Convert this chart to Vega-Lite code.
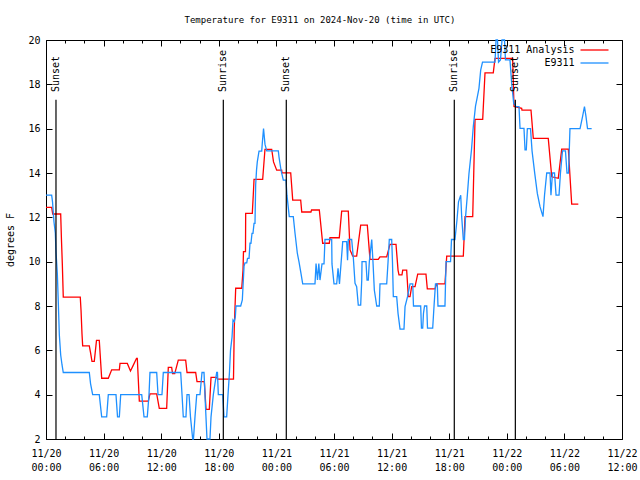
{
  "$schema": "https://vega.github.io/schema/vega-lite/v6.json",
  "autosize": "none",
  "width": 576,
  "height": 399,
  "padding": {"left": 46, "top": 40, "right": 18, "bottom": 41},
  "background": "white",
  "title": {"text": "Temperature for E9311 on 2024-Nov-20 (time in UTC)", "font": "DejaVu Sans Mono", "fontSize": 9, "fontWeight": "normal", "color": "black", "offset": 10, "dx": -14},
  "datasets": {
    "analysis": [
      {"h":0,"v":12.45},{"h":0.59,"v":12.45},{"h":0.70,"v":12.15},{"h":1.53,"v":12.15},{"h":1.61,"v":11.0},{"h":1.70,"v":9.9},{"h":1.80,"v":8.4},{"h":3.57,"v":8.4},{"h":3.65,"v":7.8},{"h":3.75,"v":6.74},{"h":3.82,"v":6.2},{"h":4.51,"v":6.2},{"h":4.64,"v":5.9},{"h":4.79,"v":5.5},{"h":5.03,"v":5.5},{"h":5.26,"v":6.45},{"h":5.55,"v":6.45},{"h":5.80,"v":4.74},{"h":6.49,"v":4.74},{"h":6.84,"v":5.12},{"h":7.64,"v":5.12},{"h":7.71,"v":5.41},{"h":8.47,"v":5.41},{"h":8.80,"v":5.07},{"h":9.06,"v":5.3},{"h":9.43,"v":5.64},{"h":9.51,"v":5.64},{"h":9.72,"v":3.71},{"h":10.66,"v":3.71},{"h":10.83,"v":4.04},{"h":11.53,"v":4.04},{"h":11.80,"v":3.38},{"h":12.57,"v":3.38},{"h":12.74,"v":5.23},{"h":13.09,"v":5.23},{"h":13.18,"v":4.95},{"h":13.41,"v":4.95},{"h":13.78,"v":5.56},{"h":14.55,"v":5.56},{"h":14.69,"v":5.0},{"h":15.59,"v":5.0},{"h":15.73,"v":4.59},{"h":16.49,"v":4.59},{"h":16.67,"v":3.34},{"h":17.01,"v":3.34},{"h":17.19,"v":4.78},{"h":17.78,"v":4.78},{"h":17.86,"v":4.7},{"h":19.53,"v":4.7},{"h":19.61,"v":7.0},{"h":19.76,"v":8.8},{"h":20.39,"v":8.8},{"h":20.52,"v":9.6},{"h":20.57,"v":10.45},{"h":20.78,"v":10.45},{"h":20.80,"v":12.18},{"h":21.49,"v":12.18},{"h":21.59,"v":13.0},{"h":21.67,"v":13.71},{"h":22.57,"v":13.71},{"h":22.81,"v":15.07},{"h":23.51,"v":15.07},{"h":23.70,"v":14.5},{"h":24.03,"v":14.13},{"h":24.55,"v":14.13},{"h":24.58,"v":14.01},{"h":25.49,"v":14.01},{"h":25.70,"v":12.78},{"h":26.53,"v":12.78},{"h":26.64,"v":12.24},{"h":27.60,"v":12.24},{"h":27.66,"v":12.33},{"h":28.47,"v":12.33},{"h":28.82,"v":10.83},{"h":29.51,"v":10.83},{"h":29.58,"v":11.08},{"h":30.55,"v":11.08},{"h":30.80,"v":12.28},{"h":31.49,"v":12.28},{"h":31.67,"v":10.53},{"h":31.95,"v":10.25},{"h":32.36,"v":10.25},{"h":32.78,"v":11.65},{"h":33.47,"v":11.65},{"h":33.75,"v":10.1},{"h":34.61,"v":10.1},{"h":34.79,"v":10.22},{"h":35.49,"v":10.22},{"h":35.83,"v":10.78},{"h":36.46,"v":10.78},{"h":36.67,"v":9.62},{"h":36.77,"v":9.4},{"h":37.08,"v":9.4},{"h":37.16,"v":9.62},{"h":37.57,"v":9.62},{"h":37.74,"v":8.42},{"h":37.92,"v":8.42},{"h":38.09,"v":8.87},{"h":38.44,"v":8.87},{"h":38.72,"v":9.44},{"h":39.58,"v":9.44},{"h":39.72,"v":8.77},{"h":40.52,"v":8.77},{"h":40.70,"v":9.0},{"h":41.56,"v":9.0},{"h":41.74,"v":10.25},{"h":43.47,"v":10.25},{"h":43.65,"v":12.03},{"h":44.45,"v":12.03},{"h":44.69,"v":16.42},{"h":45.49,"v":16.42},{"h":45.73,"v":18.52},{"h":46.59,"v":18.52},{"h":46.77,"v":19.17},{"h":48.61,"v":19.17},{"h":48.75,"v":17.0},{"h":49.55,"v":16.92},{"h":49.58,"v":16.84},{"h":50.52,"v":16.84},{"h":50.76,"v":15.56},{"h":52.32,"v":15.56},{"h":52.68,"v":13.83},{"h":53.36,"v":13.76},{"h":53.72,"v":15.08},{"h":54.41,"v":15.08},{"h":54.76,"v":12.6},{"h":55.45,"v":12.6}
    ],
    "observed": [
      {"h":0,"v":13.0},{"h":0.59,"v":13.0},{"h":0.68,"v":12.7},{"h":0.76,"v":12.2},{"h":0.83,"v":11.8},{"h":0.97,"v":11.3},{"h":1.04,"v":10.45},{"h":1.18,"v":9.47},{"h":1.28,"v":8.19},{"h":1.39,"v":6.69},{"h":1.53,"v":5.79},{"h":1.67,"v":5.34},{"h":1.80,"v":5.0},{"h":4.51,"v":5.0},{"h":4.64,"v":4.5},{"h":4.86,"v":4.0},{"h":5.55,"v":4.0},{"h":5.80,"v":3.0},{"h":6.32,"v":3.0},{"h":6.49,"v":4.0},{"h":7.29,"v":4.0},{"h":7.45,"v":3.0},{"h":7.64,"v":3.0},{"h":7.78,"v":4.0},{"h":9.97,"v":4.0},{"h":10.21,"v":3.0},{"h":10.55,"v":3.0},{"h":10.73,"v":4.0},{"h":10.83,"v":5.0},{"h":11.53,"v":5.0},{"h":11.67,"v":4.0},{"h":12.08,"v":4.0},{"h":12.22,"v":5.0},{"h":14.03,"v":5.0},{"h":14.17,"v":4.0},{"h":14.30,"v":3.0},{"h":14.58,"v":3.0},{"h":14.69,"v":4.0},{"h":14.90,"v":4.0},{"h":15.05,"v":3.0},{"h":15.28,"v":2.0},{"h":15.36,"v":2.0},{"h":15.52,"v":3.0},{"h":15.70,"v":4.0},{"h":16.04,"v":4.0},{"h":16.25,"v":5.0},{"h":16.46,"v":5.0},{"h":16.61,"v":3.5},{"h":16.77,"v":2.0},{"h":17.08,"v":2.0},{"h":17.19,"v":3.0},{"h":17.43,"v":4.0},{"h":17.60,"v":4.5},{"h":17.78,"v":5.0},{"h":17.86,"v":5.0},{"h":17.95,"v":4.0},{"h":18.41,"v":4.0},{"h":18.54,"v":3.0},{"h":18.82,"v":3.0},{"h":18.96,"v":4.0},{"h":19.11,"v":5.0},{"h":19.22,"v":6.0},{"h":19.38,"v":6.6},{"h":19.48,"v":7.37},{"h":19.61,"v":7.3},{"h":19.72,"v":7.5},{"h":19.79,"v":8.0},{"h":20.28,"v":8.0},{"h":20.45,"v":8.27},{"h":20.63,"v":9.8},{"h":20.73,"v":9.95},{"h":20.91,"v":9.95},{"h":20.99,"v":10.15},{"h":21.15,"v":10.15},{"h":21.25,"v":10.83},{"h":21.35,"v":10.83},{"h":21.46,"v":11.28},{"h":21.56,"v":11.28},{"h":21.67,"v":11.73},{"h":21.77,"v":11.73},{"h":21.84,"v":13.46},{"h":21.93,"v":14.13},{"h":22.01,"v":14.5},{"h":22.19,"v":14.99},{"h":22.47,"v":14.99},{"h":22.53,"v":15.34},{"h":22.66,"v":16.0},{"h":22.81,"v":15.3},{"h":22.99,"v":15.0},{"h":24.20,"v":15.0},{"h":24.27,"v":14.73},{"h":24.48,"v":14.13},{"h":24.72,"v":13.68},{"h":25.0,"v":13.68},{"h":25.10,"v":13.0},{"h":25.34,"v":12.03},{"h":25.76,"v":12.03},{"h":25.94,"v":11.28},{"h":26.18,"v":10.38},{"h":26.35,"v":10.0},{"h":26.56,"v":9.47},{"h":26.74,"v":9.0},{"h":28.02,"v":9.0},{"h":28.13,"v":9.92},{"h":28.28,"v":9.17},{"h":28.42,"v":9.92},{"h":28.54,"v":9.17},{"h":28.75,"v":9.9},{"h":28.96,"v":9.9},{"h":29.06,"v":11.0},{"h":29.76,"v":11.0},{"h":29.79,"v":9.9},{"h":30.0,"v":9.0},{"h":30.28,"v":9.0},{"h":30.42,"v":9.7},{"h":30.57,"v":9.0},{"h":30.73,"v":9.9},{"h":30.91,"v":10.9},{"h":31.32,"v":10.9},{"h":31.41,"v":10.07},{"h":31.49,"v":11.0},{"h":31.84,"v":11.0},{"h":32.01,"v":10.2},{"h":32.19,"v":9.02},{"h":32.36,"v":8.87},{"h":32.53,"v":8.04},{"h":32.78,"v":8.04},{"h":32.89,"v":9.17},{"h":32.92,"v":10.0},{"h":33.33,"v":10.0},{"h":33.44,"v":9.17},{"h":33.57,"v":9.17},{"h":33.68,"v":10.0},{"h":33.93,"v":11.0},{"h":34.06,"v":10.0},{"h":34.20,"v":8.72},{"h":34.45,"v":8.0},{"h":34.72,"v":8.0},{"h":34.79,"v":9.0},{"h":35.49,"v":9.0},{"h":35.63,"v":10.0},{"h":35.76,"v":11.0},{"h":36.01,"v":11.0},{"h":36.09,"v":10.0},{"h":36.18,"v":8.42},{"h":36.53,"v":8.42},{"h":36.67,"v":7.67},{"h":36.88,"v":6.96},{"h":37.29,"v":6.96},{"h":37.40,"v":7.97},{"h":37.66,"v":8.42},{"h":37.92,"v":9.0},{"h":38.20,"v":9.0},{"h":38.28,"v":8.0},{"h":39.03,"v":8.0},{"h":39.11,"v":7.0},{"h":39.24,"v":7.0},{"h":39.32,"v":7.67},{"h":39.43,"v":8.0},{"h":39.66,"v":8.0},{"h":39.74,"v":7.0},{"h":40.28,"v":7.0},{"h":40.42,"v":8.0},{"h":40.57,"v":9.0},{"h":40.76,"v":9.0},{"h":40.83,"v":8.0},{"h":41.56,"v":8.0},{"h":41.67,"v":10.0},{"h":42.14,"v":10.0},{"h":42.24,"v":11.0},{"h":42.60,"v":11.0},{"h":42.81,"v":11.88},{"h":42.97,"v":12.7},{"h":43.20,"v":13.0},{"h":43.30,"v":12.03},{"h":43.47,"v":11.0},{"h":43.59,"v":11.0},{"h":43.70,"v":12.0},{"h":43.89,"v":13.0},{"h":44.06,"v":13.98},{"h":44.32,"v":15.04},{"h":44.51,"v":16.09},{"h":44.74,"v":17.02},{"h":44.90,"v":17.37},{"h":45.10,"v":17.82},{"h":45.28,"v":18.64},{"h":45.47,"v":19.0},{"h":46.77,"v":19.0},{"h":46.88,"v":20.0},{"h":47.03,"v":20.0},{"h":47.14,"v":19.0},{"h":47.34,"v":19.1},{"h":47.50,"v":20.0},{"h":47.76,"v":20.0},{"h":47.86,"v":19.1},{"h":48.33,"v":19.1},{"h":48.51,"v":18.04},{"h":48.72,"v":17.14},{"h":48.96,"v":16.99},{"h":49.27,"v":16.99},{"h":49.38,"v":16.01},{"h":49.79,"v":16.01},{"h":49.90,"v":15.04},{"h":50.03,"v":15.04},{"h":50.14,"v":16.0},{"h":50.47,"v":16.0},{"h":50.63,"v":15.0},{"h":50.91,"v":13.98},{"h":51.18,"v":13.08},{"h":51.46,"v":12.48},{"h":51.77,"v":12.03},{"h":51.93,"v":13.0},{"h":52.16,"v":14.0},{"h":52.50,"v":14.0},{"h":52.60,"v":13.0},{"h":52.76,"v":14.0},{"h":52.97,"v":14.0},{"h":53.13,"v":13.0},{"h":53.44,"v":13.0},{"h":53.59,"v":14.0},{"h":53.80,"v":15.0},{"h":54.11,"v":15.0},{"h":54.27,"v":14.0},{"h":54.43,"v":14.0},{"h":54.58,"v":16.0},{"h":55.63,"v":16.0},{"h":55.89,"v":16.54},{"h":56.09,"v":17.0},{"h":56.25,"v":16.54},{"h":56.41,"v":16.0},{"h":56.84,"v":16.0}
    ],
    "events": [
      {"h":1.04,"label":"Sunset"},{"h":18.47,"label":"Sunrise"},{"h":25.03,"label":"Sunset"},{"h":42.53,"label":"Sunrise"},{"h":48.89,"label":"Sunset"}
    ]
  },
  "layer": [
    {
      "data": {"name": "analysis"},
      "mark": {"type": "line", "strokeWidth": 1.3, "interpolate": "linear"},
      "encoding": {
        "x": {"field": "h", "type": "quantitative", "scale": {"domain": [0, 60], "nice": false, "zero": false},
          "axis": {"orient": "bottom", "title": null, "values": [0,2,4,6,8,10,12,14,16,18,20,22,24,26,28,30,32,34,36,38,40,42,44,46,48,50,52,54,56,58,60],
            "labelExpr": "datum.value % 6 == 0 ? ['11/' + (20 + floor(datum.value / 24)), (datum.value % 24 < 10 ? '0' : '') + (datum.value % 24) + ':00'] : ''",
            "tickSize": {"condition": {"test": "datum.value % 6 == 0", "value": -6}, "value": -3},
            "labelPadding": 15, "labelLineHeight": 14, "labelBaseline": "top", "labelOverlap": false, "labelFlush": false}},
        "y": {"field": "v", "type": "quantitative", "scale": {"domain": [2, 20], "nice": false, "zero": false},
          "axis": {"orient": "left", "title": "degrees F", "values": [2,4,6,8,10,12,14,16,18,20], "tickSize": -6, "labelPadding": 12, "titlePadding": 12}},
        "color": {"datum": "E9311 Analysis", "type": "nominal",
          "scale": {"domain": ["E9311 Analysis", "E9311"], "range": ["#ff0000", "#1e90ff"]},
          "legend": {"orient": "none", "legendX": 543.5, "legendY": 5, "title": null, "symbolType": "M-7,0H7", "symbolSize": 16, "symbolStrokeWidth": 1.3, "labelAlign": "right", "labelOffset": -25, "labelFontSize": 10, "labelFont": "DejaVu Sans Mono", "labelColor": "black", "rowPadding": 3, "padding": 0}}
      }
    },
    {
      "data": {"name": "observed"},
      "mark": {"type": "line", "strokeWidth": 1.3, "interpolate": "linear"},
      "encoding": {
        "x": {"field": "h", "type": "quantitative", "scale": {"domain": [0, 60], "nice": false, "zero": false},
          "axis": {"orient": "top", "title": null, "labels": false, "values": [0,2,4,6,8,10,12,14,16,18,20,22,24,26,28,30,32,34,36,38,40,42,44,46,48,50,52,54,56,58,60],
            "tickSize": {"condition": {"test": "datum.value % 6 == 0", "value": -6}, "value": -3}}},
        "y": {"field": "v", "type": "quantitative", "scale": {"domain": [2, 20], "nice": false, "zero": false},
          "axis": {"orient": "right", "title": null, "labels": false, "values": [2,4,6,8,10,12,14,16,18,20], "tickSize": -6}},
        "color": {"datum": "E9311", "type": "nominal"}
      }
    },
    {
      "data": {"name": "events"},
      "mark": {"type": "rule", "color": "black", "strokeWidth": 1.2},
      "encoding": {
        "x": {"field": "h", "type": "quantitative", "axis": null},
        "y": {"datum": 17.3, "type": "quantitative", "axis": null},
        "y2": {"datum": 2}
      }
    },
    {
      "data": {"name": "events"},
      "mark": {"type": "text", "angle": 270, "align": "left", "baseline": "middle", "font": "DejaVu Sans Mono", "fontSize": 10, "color": "black"},
      "encoding": {
        "x": {"field": "h", "type": "quantitative", "axis": null},
        "y": {"datum": 17.65, "type": "quantitative", "axis": null},
        "text": {"field": "label"}
      }
    }
  ],
  "resolve": {"axis": {"x": "independent", "y": "independent"}},
  "config": {
    "font": "DejaVu Sans Mono",
    "view": {"stroke": "black", "strokeWidth": 1},
    "axis": {"domain": false, "grid": false, "labelFont": "DejaVu Sans Mono", "labelFontSize": 10, "labelColor": "black", "tickColor": "black", "tickWidth": 1, "titleFont": "DejaVu Sans Mono", "titleFontSize": 10, "titleFontWeight": "normal", "titleColor": "black"}
  }
}
